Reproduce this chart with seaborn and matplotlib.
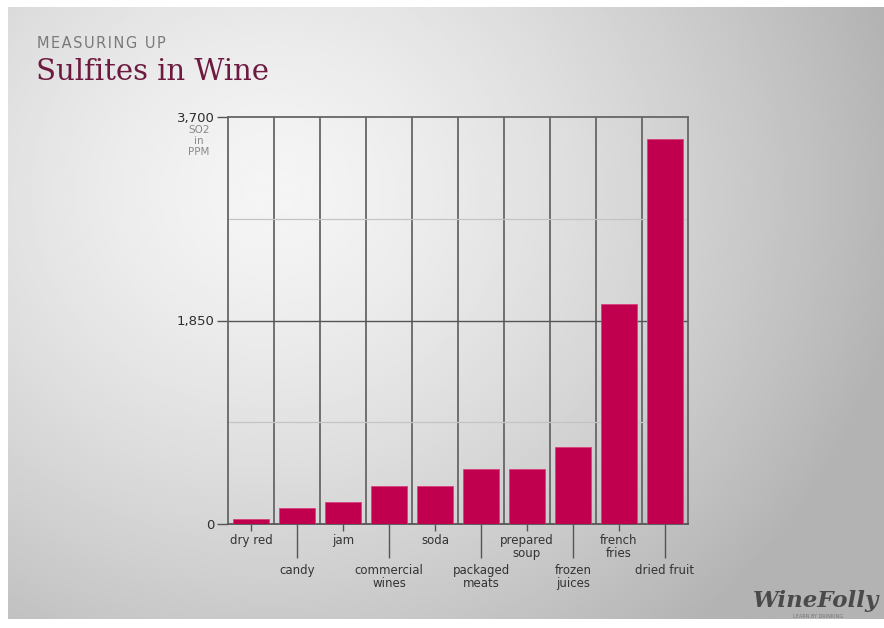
import numpy as np
import pandas as pd
import seaborn as sns
import matplotlib.pyplot as plt

# values (SO2 in ppm)
categories = ["dry red", "candy", "jam", "commercial wines", "soda",
              "packaged meats", "prepared soup", "frozen juices",
              "french fries", "dried fruit"]
tick_labels = ["dry red", "candy", "jam", "commercial\nwines", "soda",
               "packaged\nmeats", "prepared\nsoup", "frozen\njuices",
               "french\nfries", "dried fruit"]
so2_ppm = [50, 150, 200, 350, 350, 500, 500, 700, 2000, 3500]
y_ticks = [0, 1850, 3700]
y_minor = [925, 2775]

df = pd.DataFrame({"food": categories, "ppm": so2_ppm})

sns.set_theme(style="white")
plt.rcParams["font.family"] = ["DejaVu Sans"]

fig = plt.figure(figsize=(8.84, 6.28), dpi=100)
fig.patch.set_facecolor("white")

# soft grey vignette behind everything
bg = fig.add_axes([8 / 884, 9 / 628, 876 / 884, 612 / 628], zorder=-5)
gx, gy = np.meshgrid(np.linspace(0, 1, 300), np.linspace(0, 1, 220))
d = np.sqrt((gx - 0.3) ** 2 + ((gy - 0.3) / 1.3) ** 2)
bg.imshow(np.clip(0.96 - 0.4 * d ** 1.4, 0.7, 1), cmap="gray", vmin=0,
          vmax=1, aspect="auto", extent=[0, 1, 0, 1], origin="upper")
bg.axis("off")

ax = fig.add_axes([228 / 884, 104 / 628, 460 / 884, 407 / 628])
ax.set_facecolor("none")

sns.barplot(data=df, x="food", y="ppm", color="#c0004e", saturation=1,
            width=0.78, edgecolor="#d9407a", linewidth=0.6, ax=ax, zorder=3)

n = len(categories)
ax.set_xlim(-0.5, n - 0.5)
ax.set_ylim(0, 3700)

# grid: category separators and value lines
for b in np.arange(0.5, n - 0.5, 1):
    ax.axvline(b, color="#666666", lw=1.3, zorder=1)
for v in y_minor:
    ax.axhline(v, color="#c4c4c4", lw=0.9, zorder=1)
ax.axhline(1850, color="#555555", lw=1.0, zorder=1)

for s in ax.spines.values():
    s.set_color("#666666")
    s.set_linewidth(1.3)
ax.spines["bottom"].set_color("#555555")

ax.set_yticks(y_ticks)
ax.set_yticklabels([f"{v:,}" for v in y_ticks], fontsize=9.5,
                   color="#2e2e2e")
ax.tick_params(axis="y", length=8, width=1, color="#555555", pad=1.5, left=True)

# alternate short / long tick marks so labels sit on two rows
ax.set_xticks(range(0, n, 2))
ax.set_xticklabels(tick_labels[0::2], fontsize=8.5, color="#333333",
                   linespacing=1.0)
ax.set_xticks(range(1, n, 2), minor=True)
ax.set_xticklabels(tick_labels[1::2], minor=True, fontsize=8.5,
                   color="#333333", linespacing=1.0)
ax.tick_params(axis="x", which="major", length=5, width=1, color="#555555",
               pad=2, bottom=True)
ax.tick_params(axis="x", which="minor", length=24.5, width=1,
               color="#555555", pad=4.5, bottom=True)
ax.set_xlabel("")
ax.set_ylabel("")

fig.text(199 / 884, 1 - 141 / 628, "SO2\nin\nPPM", ha="center", va="center",
         fontsize=7.5, color="#8a8a8a", linespacing=1.15)

fig.text(37 / 884, 1 - 44 / 628, "\u200a".join("MEASURING UP"), ha="left",
         va="center", fontsize=10.5, color="#7a7a7a")
fig.text(36 / 884, 1 - 72 / 628, "Sulfites in Wine", ha="left", va="center",
         fontsize=21, color="#6e1a40", family="DejaVu Serif")

fig.text(879 / 884, 1 - 601 / 628, "WineFolly", ha="right", va="center",
         fontsize=16.5, color="#4a4a4a", family="DejaVu Serif",
         style="italic", weight="bold")
fig.text(818 / 884, 1 - 616 / 628, "LEARN BY DRINKING", ha="center",
         va="center", fontsize=3.5, color="#777777")

fig.savefig("out.png", dpi=100)
